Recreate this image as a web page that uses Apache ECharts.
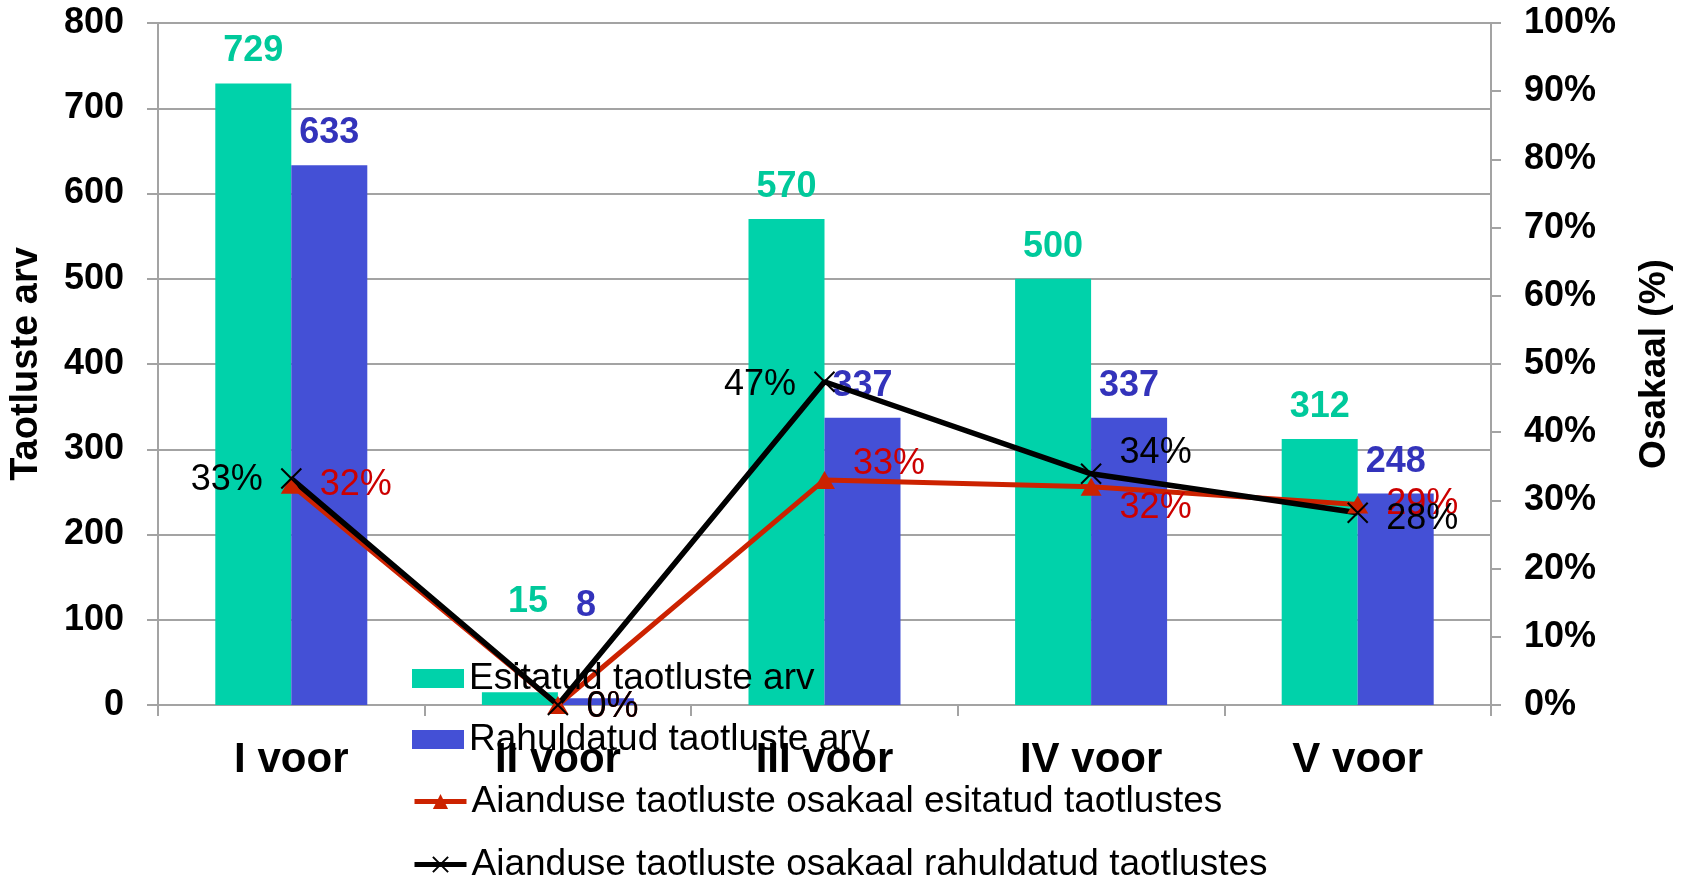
<!DOCTYPE html>
<html>
<head>
<meta charset="utf-8">
<title>Taotlused</title>
<script src="https://cdn.jsdelivr.net/npm/echarts@6/dist/echarts.min.js"></script>
<style>
  html, body { margin: 0; padding: 0; background: #fff; }
  #chart { width: 1681px; height: 884px; }
</style>
</head>
<body>
<div id="chart"></div>
<script>
// andmed
var categories = ['I voor', 'II voor', 'III voor', 'IV voor', 'V voor'];
var esitatud = [729, 15, 570, 500, 312];
var rahuldatud = [633, 8, 337, 337, 248];
var osakaalEsitatud = [0.323, 0, 0.330, 0.320, 0.294];
var osakaalRahuldatud = [0.332, 0, 0.474, 0.339, 0.282];
var seriesNames = [
  'Esitatud taotluste arv',
  'Rahuldatud taotluste arv',
  'Aianduse taotluste osakaal esitatud taotlustes',
  'Aianduse taotluste osakaal rahuldatud taotlustes'
];

var font = "'Liberation Sans', Arial, sans-serif";
var gray = '#A3A3A3';

function pct(v) {
  return Math.round(v * 100) + '%';
}

// sildi asukohad (käsitsi, nagu originaalis)
var redLabelPos = [
  {position: 'right', offset: [0, 0]},
  {position: 'right', offset: [0, 2]},
  {position: 'right', offset: [0, -16]},
  {position: 'right', offset: [0, 21]},
  {position: 'right', offset: [0, 0]}
];
var blackLabelPos = [
  {position: 'left', offset: [0, 2]},
  {position: 'right', offset: [0, 2]},
  {position: 'left', offset: [0, 3]},
  {position: 'right', offset: [0, -21]},
  {position: 'right', offset: [0, 6]}
];
// II vooru tulpade sildid on tõstetud kõrgemale
var barLabelOffset = [[0, 0], [8, -58], [0, 0], [0, 0], [0, 0]];
var barLabelOffset2 = [[0, 0], [-10, -60], [0, 0], [0, 0], [0, 0]];

// legendi read, iga kirje eraldi
var legendTops = [660, 721, 783, 846];

var chart = echarts.init(document.getElementById('chart'));

function legendFor(i) {
  var item = {name: seriesNames[i]};
  if (i < 2) {
    item.icon = 'rect';
  } else {
    item.lineStyle = {width: 5};
  }
  return {
    orient: 'vertical',
    left: 412,
    top: legendTops[i],
    padding: 0,
    itemWidth: 52,
    itemHeight: 19,
    textStyle: {fontFamily: font, fontSize: 37, color: '#000'},
    data: [item]
  };
}

var option = {
  animation: false,
  textStyle: {fontFamily: font},
  grid: {left: 155, right: 189, top: 23, bottom: 179, containLabel: false},
  legend: [legendFor(0), legendFor(1), legendFor(2), legendFor(3)],
  xAxis: {
    type: 'category',
    data: categories,
    axisLine: {lineStyle: {color: gray, width: 2}},
    axisTick: {show: true, length: 11, lineStyle: {color: gray, width: 2}},
    axisLabel: {
      margin: 34,
      fontFamily: font,
      fontSize: 42,
      fontWeight: 'bold',
      color: '#000'
    }
  },
  yAxis: [
    {
      type: 'value',
      min: 0,
      max: 800,
      interval: 100,
      name: 'Taotluste arv',
      nameLocation: 'middle',
      nameGap: 112,
      nameTextStyle: {fontFamily: font, fontSize: 38, fontWeight: 'bold', color: '#000'},
      axisLine: {show: true, lineStyle: {color: gray, width: 2}},
      axisTick: {show: true, length: 11, lineStyle: {color: gray, width: 2}},
      axisLabel: {margin: 34, fontFamily: font, fontSize: 36, fontWeight: 'bold', color: '#000'},
      splitLine: {show: true, lineStyle: {color: gray, width: 2}}
    },
    {
      type: 'value',
      position: 'right',
      min: 0,
      max: 1,
      interval: 0.1,
      name: 'Osakaal (%)',
      nameLocation: 'middle',
      nameGap: 145,
      nameTextStyle: {fontFamily: font, fontSize: 37, fontWeight: 'bold', color: '#000'},
      axisLine: {show: true, lineStyle: {color: gray, width: 2}},
      axisTick: {show: true, length: 10, lineStyle: {color: gray, width: 2}},
      axisLabel: {
        margin: 33,
        fontFamily: font,
        fontSize: 36,
        fontWeight: 'bold',
        color: '#000',
        formatter: pct
      },
      splitLine: {show: false}
    }
  ],
  series: [
    {
      name: seriesNames[0],
      type: 'bar',
      barWidth: 76,
      barGap: '0%',
      itemStyle: {color: '#00D2AA'},
      label: {
        show: true,
        position: 'top',
        distance: 14,
        fontFamily: font,
        fontSize: 36,
        fontWeight: 'bold',
        color: '#00C99B'
      },
      data: esitatud.map(function (v, i) {
        return {value: v, label: {offset: barLabelOffset[i]}};
      })
    },
    {
      name: seriesNames[1],
      type: 'bar',
      barWidth: 76,
      barGap: '0%',
      itemStyle: {color: '#4450D6'},
      label: {
        show: true,
        position: 'top',
        distance: 14,
        fontFamily: font,
        fontSize: 36,
        fontWeight: 'bold',
        color: '#3333BB'
      },
      data: rahuldatud.map(function (v, i) {
        return {value: v, label: {offset: barLabelOffset2[i]}};
      })
    },
    {
      name: seriesNames[2],
      type: 'line',
      yAxisIndex: 1,
      symbol: 'triangle',
      symbolSize: [21, 18],
      lineStyle: {color: '#CC2200', width: 5},
      itemStyle: {color: '#CC2200'},
      label: {
        show: true,
        distance: 18,
        fontFamily: font,
        fontSize: 36,
        color: '#CC0000',
        formatter: function (p) { return pct(p.value); }
      },
      data: osakaalEsitatud.map(function (v, i) {
        return {value: v, label: redLabelPos[i]};
      })
    },
    {
      name: seriesNames[3],
      type: 'line',
      yAxisIndex: 1,
      symbol: 'path://M0,0L10,10M10,0L0,10',
      symbolSize: 20,
      lineStyle: {color: '#000', width: 5.5},
      itemStyle: {color: 'none', borderColor: '#000', borderWidth: 2},
      label: {
        show: true,
        distance: 16,
        fontFamily: font,
        fontSize: 36,
        color: '#000',
        formatter: function (p) { return pct(p.value); }
      },
      data: osakaalRahuldatud.map(function (v, i) {
        return {value: v, label: blackLabelPos[i]};
      })
    }
  ]
};

chart.setOption(option);
</script>
</body>
</html>
